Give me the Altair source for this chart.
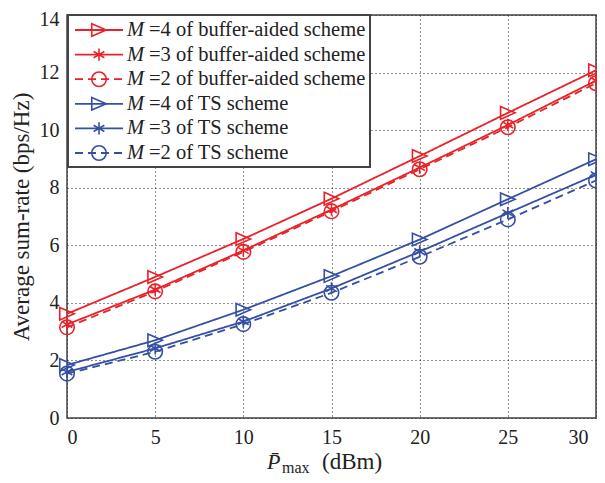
import altair as alt
import pandas as pd

x_vals = [0, 5, 10, 15, 20, 25, 30]
ba4 = [3.62, 4.90, 6.22, 7.62, 9.10, 10.60, 12.08]
ba3 = [3.25, 4.46, 5.82, 7.24, 8.70, 10.18, 11.72]
ba2 = [3.15, 4.40, 5.77, 7.18, 8.64, 10.10, 11.63]
ts4 = [1.84, 2.70, 3.76, 4.93, 6.20, 7.60, 8.99]
ts3 = [1.60, 2.42, 3.35, 4.50, 5.78, 7.12, 8.45]
ts2 = [1.54, 2.30, 3.26, 4.35, 5.60, 6.90, 8.25]

names = ["ba4", "ba3", "ba2", "ts4", "ts3", "ts2"]
series_vals = [ba4, ba3, ba2, ts4, ts3, ts2]
labels = ["=4 of buffer-aided scheme", "=3 of buffer-aided scheme", "=2 of buffer-aided scheme",
          "=4 of TS scheme", "=3 of TS scheme", "=2 of TS scheme"]
RED = "#ea2128"
BLUE = "#3550a3"
colors = [RED, RED, RED, BLUE, BLUE, BLUE]
TRI = "M-1,-0.87L1,0L-1,0.87Z"
AST = "M0,-0.85L0,0.85M-0.74,-0.43L0.74,0.43M-0.74,0.43L0.74,-0.43"
CIR = "circle"
shapes = [TRI, AST, CIR, TRI, AST, CIR]
dashes = [[1, 0], [1, 0], [8, 5], [1, 0], [1, 0], [8, 5]]
leg_dashes = [[1, 0], [1, 0], [6, 12, 12, 12], [1, 0], [1, 0], [6, 12, 12, 12]]

rows = []
for n, vals in zip(names, series_vals):
    for xv, yv in zip(x_vals, vals):
        rows.append({"series": n, "x": xv, "y": yv})
df = pd.DataFrame(rows)

leg = pd.DataFrame({"series": names, "row": list(range(6)), "label": labels})

FONT = "Liberation Serif"
W, H = 529, 403

color = alt.Color("series:N", scale=alt.Scale(domain=names, range=colors), legend=None)
shape = alt.Shape("series:N", scale=alt.Scale(domain=names, range=shapes), legend=None)

xenc = alt.X("x:Q", scale=alt.Scale(domain=[0, 30], nice=False),
             axis=alt.Axis(values=[0, 5, 10, 15, 20, 25, 30], title=None,
                           labelOffset={"condition": {"test": "datum.value == 30", "value": -8},
                                        "value": 0}))
yenc = alt.Y("y:Q", scale=alt.Scale(domain=[0, 14], nice=False),
             axis=alt.Axis(values=list(range(0, 15, 2)), title="Average sum-rate (bps/Hz)",
                           labelOffset={"condition": {"test": "datum.value == 14", "value": 4},
                                        "value": 0}))

lines = alt.Chart(df).mark_line(strokeWidth=1.8).encode(
    x=xenc, y=yenc, color=color,
    strokeDash=alt.StrokeDash("series:N", scale=alt.Scale(domain=names, range=dashes), legend=None),
    detail="series:N",
)
points = alt.Chart(df).mark_point(filled=False, strokeWidth=1.6, size=210, opacity=1).encode(
    x=alt.X("x:Q"),
    y=alt.Y("y:Q", scale=alt.Scale(domain=[0, 14], nice=False), axis=None),
    color=color, shape=shape,
)

legy = alt.Y("row:Q", scale=alt.Scale(domain=[0, 5], range=[15, 138]), axis=None)

box = alt.Chart(pd.DataFrame({"a": [0]})).mark_rect(
    fill="white", stroke="#444444", strokeWidth=2
).encode(x=alt.value(1), x2=alt.value(303), y=alt.value(0), y2=alt.value(152))

leg_lines = alt.Chart(leg).mark_rule(strokeWidth=1.8).encode(
    x=alt.value(8), x2=alt.value(56), y=legy, color=color,
    strokeDash=alt.StrokeDash("series:N", scale=alt.Scale(domain=names, range=leg_dashes), legend=None),
)
leg_pts = alt.Chart(leg).mark_point(filled=False, strokeWidth=1.6, size=210, opacity=1).encode(
    x=alt.value(32), y=legy, color=color, shape=shape,
)
leg_m = alt.Chart(leg).mark_text(
    text="M", font=FONT, fontSize=20.5, fontStyle="italic", align="left", baseline="middle", color="#222"
).encode(x=alt.value(60), y=legy)
leg_txt = alt.Chart(leg).mark_text(
    font=FONT, fontSize=20.5, align="left", baseline="middle", color="#222"
).encode(x=alt.value(82), y=legy, text="label:N")

xt = pd.DataFrame({"a": [0]})
xt_p = alt.Chart(xt).mark_text(text="P\u0304", font=FONT, fontSize=22, fontStyle="italic",
                               align="left", baseline="alphabetic", color="#222").encode(
    x=alt.value(200), y=alt.value(H + 51))
xt_max = alt.Chart(xt).mark_text(text="max", font=FONT, fontSize=16,
                                 align="left", baseline="alphabetic", color="#222").encode(
    x=alt.value(215), y=alt.value(H + 55))
xt_db = alt.Chart(xt).mark_text(text="(dBm)", font=FONT, fontSize=23,
                                align="left", baseline="alphabetic", color="#222").encode(
    x=alt.value(255), y=alt.value(H + 51))

chart = alt.layer(
    lines, points, box, leg_lines, leg_pts, leg_m, leg_txt, xt_p, xt_max, xt_db
).resolve_scale(y="independent").properties(
    width=W, height=H,
    autosize=alt.AutoSizeParams(type="none"),
    padding={"left": 59, "top": 7, "right": 1, "bottom": 57},
).configure_view(
    stroke="#444444", strokeWidth=1.5
).configure_axis(
    labelFont=FONT, labelFontSize=20, labelColor="#222",
    titleFont=FONT, titleFontSize=23, titleFontWeight="normal", titleColor="#222",
    domain=False, ticks=False, labelPadding=8,
    grid=True, gridColor="#222", gridDash=[1, 3], gridWidth=1, gridOpacity=1,
).configure_axisY(titlePadding=6).configure_axisX(labelPadding=9)

chart.save("out.html", embed_options={"renderer": "svg", "actions": False})
